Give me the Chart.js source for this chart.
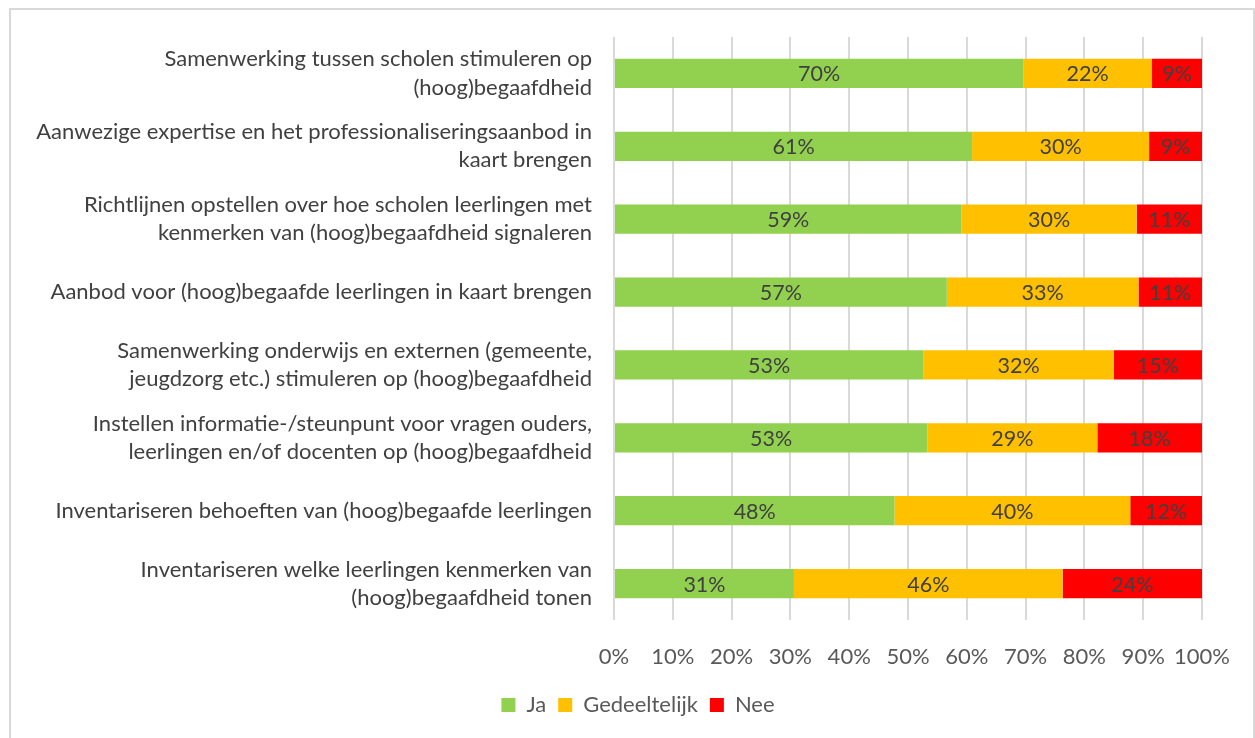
<!DOCTYPE html>
<html>
<head>
<meta charset="utf-8">
<script src="https://cdn.jsdelivr.net/npm/chart.js@4.4.1/dist/chart.umd.min.js"></script>
<style>
  html, body { margin: 0; padding: 0; background: #fff; }
  #frame {
    position: absolute; left: 9px; top: 8px;
    width: 1242px; height: 740px;
    border: 2px solid #d9d9d9;
  }
  #frame canvas { display: block; }
</style>
</head>
<body>
<div id="frame"><canvas id="chart" width="1242" height="728"></canvas></div>
<script>
// categorieën (van boven naar beneden)
const categories = [
    ['Samenwerking tussen scholen stimuleren op', '(hoog)begaafdheid'],
    ['Aanwezige expertise en het professionaliseringsaanbod in', 'kaart brengen'],
    ['Richtlijnen opstellen over hoe scholen leerlingen met', 'kenmerken van (hoog)begaafdheid signaleren'],
    'Aanbod voor (hoog)begaafde leerlingen in kaart brengen',
    ['Samenwerking onderwijs en externen (gemeente,', 'jeugdzorg etc.) stimuleren op (hoog)begaafdheid'],
    ['Instellen informatie-/steunpunt voor vragen ouders,', 'leerlingen en/of docenten op (hoog)begaafdheid'],
    'Inventariseren behoeften van (hoog)begaafde leerlingen',
    ['Inventariseren welke leerlingen kenmerken van', '(hoog)begaafdheid tonen']
];

// percentages per antwoord
const ja = [69.6, 60.9, 59.1, 56.6, 52.6, 53.3, 47.7, 30.6];
const gedeeltelijk = [21.9, 30.1, 29.8, 32.6, 32.4, 28.9, 40.1, 45.7];
const nee = [8.5, 9.0, 11.1, 10.8, 15.0, 17.8, 12.2, 23.7];

const seriesNames = ['Ja', 'Gedeeltelijk', 'Nee'];
const seriesColors = ['#92d050', '#ffc000', '#ff0000'];

const FONT = 'Lato, "Open Sans", sans-serif';

// waarden in de balken tekenen
const barLabels = {
    id: 'barLabels',
    afterDatasetsDraw(chart) {
        const ctx = chart.ctx;
        ctx.save();
        ctx.font = '21.5px ' + FONT;
        ctx.fillStyle = '#404040';
        ctx.textAlign = 'center';
        ctx.textBaseline = 'middle';
        chart.data.datasets.forEach((ds, i) => {
            chart.getDatasetMeta(i).data.forEach((bar, j) => {
                const x = (bar.x + bar.base) / 2;
                ctx.fillText(Math.round(ds.data[j]) + '%', x, bar.y + 1);
            });
        });
        ctx.restore();
    }
};

const ctx = document.getElementById('chart').getContext('2d');
new Chart(ctx, {
    type: 'bar',
    data: {
        labels: categories,
        datasets: [ja, gedeeltelijk, nee].map((d, i) => ({
            label: seriesNames[i],
            data: d,
            backgroundColor: seriesColors[i],
            borderWidth: 0,
            barPercentage: 0.4,
            categoryPercentage: 1
        }))
    },
    options: {
        indexAxis: 'y',
        responsive: false,
        animation: false,
        layout: { padding: { top: 27, right: 0, bottom: 12, left: 12 } },
        scales: {
            x: {
                stacked: true,
                min: 0,
                max: 100,
                border: { display: false },
                grid: { color: '#d9d9d9', lineWidth: 2, drawTicks: false },
                ticks: {
                    stepSize: 10,
                    padding: 24,
                    maxRotation: 0,
                    minRotation: 0,
                    autoSkip: false,
                    color: '#595959',
                    font: { family: FONT, size: 22 },
                    callback: v => v + '%'
                },
                afterFit: s => {
                    s.height = 62;
                    s.paddingLeft = 0;
                    s.paddingRight = 0;
                }
            },
            y: {
                stacked: true,
                border: { display: false },
                grid: { display: false, drawTicks: false },
                ticks: {
                    padding: 22,
                    color: '#404040',
                    font: { family: FONT, size: 22, lineHeight: 1.28 }
                },
                afterFit: s => {
                    s.width = 591;
                    s.paddingTop = 0;
                    s.paddingBottom = 0;
                }
            },
            // lege as rechts, houdt ruimte vrij voor "100%"
            yRight: {
                type: 'linear',
                position: 'right',
                border: { display: false },
                grid: { display: false, drawTicks: false },
                ticks: { display: false },
                afterFit: s => {
                    s.width = 51;
                    s.paddingTop = 0;
                    s.paddingBottom = 0;
                }
            }
        },
        plugins: {
            tooltip: { enabled: false },
            legend: {
                position: 'bottom',
                labels: {
                    color: '#595959',
                    font: { family: FONT, size: 22 },
                    boxWidth: 14,
                    boxHeight: 14,
                    padding: 12
                }
            }
        }
    },
    plugins: [barLabels]
});
</script>
</body>
</html>
